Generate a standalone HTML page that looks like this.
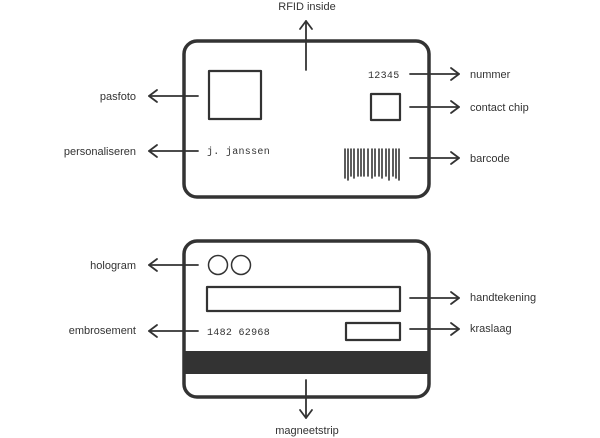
<!DOCTYPE html>
<html><head><style>
html,body{margin:0;padding:0;background:#fff;width:600px;height:438px;overflow:hidden}
svg text{font-family:"Liberation Sans","DejaVu Sans",sans-serif;font-size:11px;fill:#333}
.m{font-family:"Liberation Mono","DejaVu Sans Mono",monospace;font-size:10px;fill:#333;letter-spacing:0.3px}
</style></head><body>
<svg width="600" height="438" viewBox="0 0 600 438" xmlns="http://www.w3.org/2000/svg">
<g fill="none" stroke="#333" stroke-linecap="round" stroke-linejoin="round">
<rect x="184" y="41" width="245" height="156" rx="13" stroke-width="3.5"/>
<rect x="209" y="71" width="52" height="48" stroke-width="2.2"/>
<rect x="371" y="94" width="29" height="26" stroke-width="2.2"/>
<rect x="184" y="241" width="245" height="156" rx="13" stroke-width="3.5"/>
<circle cx="218" cy="265" r="9.5" stroke-width="1.5"/>
<circle cx="241" cy="265" r="9.5" stroke-width="1.5"/>
<rect x="207" y="287" width="193" height="24" stroke-width="2.2"/>
<rect x="346" y="323" width="54" height="17" stroke-width="2.2"/>
<g stroke-width="1.8">
<line x1="306" y1="21" x2="306" y2="70"/><polyline points="300,29 306,21 312,29"/>
<line x1="149" y1="96" x2="198" y2="96"/><polyline points="157,90 149,96 157,102"/>
<line x1="149" y1="151" x2="198" y2="151"/><polyline points="157,145 149,151 157,157"/>
<line x1="410" y1="74" x2="459" y2="74"/><polyline points="451,68 459,74 451,80"/>
<line x1="410" y1="107" x2="459" y2="107"/><polyline points="451,101 459,107 451,113"/>
<line x1="410" y1="158" x2="459" y2="158"/><polyline points="451,152 459,158 451,164"/>
<line x1="149" y1="265" x2="198" y2="265"/><polyline points="157,259 149,265 157,271"/>
<line x1="149" y1="331" x2="198" y2="331"/><polyline points="157,325 149,331 157,337"/>
<line x1="410" y1="298" x2="459" y2="298"/><polyline points="451,292 459,298 451,304"/>
<line x1="410" y1="329" x2="459" y2="329"/><polyline points="451,323 459,329 451,335"/>
<line x1="306" y1="380" x2="306" y2="418"/><polyline points="300,410 306,418 312,410"/>
</g>
<g stroke-width="1.6">
<line x1="345" y1="149" x2="345" y2="178"/><line x1="348" y1="149" x2="348" y2="180"/>
<line x1="351" y1="149" x2="351" y2="176"/><line x1="354" y1="149" x2="354" y2="178"/>
<line x1="358" y1="149" x2="358" y2="176"/><line x1="361" y1="149" x2="361" y2="176"/>
<line x1="364" y1="149" x2="364" y2="176"/><line x1="368" y1="149" x2="368" y2="176"/>
<line x1="372" y1="149" x2="372" y2="178"/><line x1="375" y1="149" x2="375" y2="176"/>
<line x1="379" y1="149" x2="379" y2="176"/><line x1="382" y1="149" x2="382" y2="178"/>
<line x1="386" y1="149" x2="386" y2="176"/><line x1="389" y1="149" x2="389" y2="180"/>
<line x1="393" y1="149" x2="393" y2="176"/><line x1="396" y1="149" x2="396" y2="178"/>
<line x1="399" y1="149" x2="399" y2="180"/>
</g>
</g>
<rect x="185" y="351" width="243" height="23" fill="#333"/>
<text class="m" x="368" y="78">12345</text>
<text class="m" x="207" y="154">j. janssen</text>
<text class="m" x="207" y="335">1482 62968</text>
<text x="307" y="10" text-anchor="middle">RFID inside</text>
<text x="136" y="100" text-anchor="end">pasfoto</text>
<text x="136" y="155" text-anchor="end">personaliseren</text>
<text x="470" y="78">nummer</text>
<text x="470" y="111">contact chip</text>
<text x="470" y="162">barcode</text>
<text x="136" y="269" text-anchor="end">hologram</text>
<text x="136" y="334" text-anchor="end">embrosement</text>
<text x="470" y="301">handtekening</text>
<text x="470" y="332">kraslaag</text>
<text x="307" y="434" text-anchor="middle">magneetstrip</text>
</svg>
</body></html>
